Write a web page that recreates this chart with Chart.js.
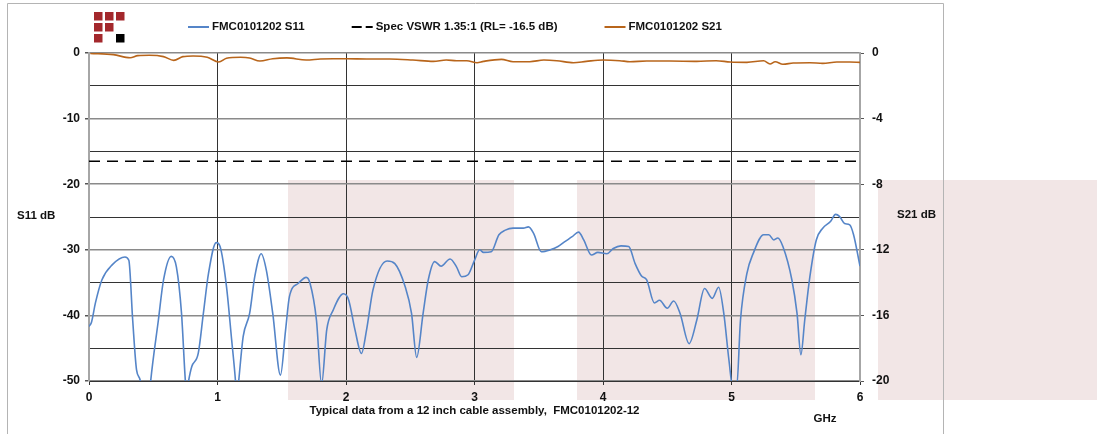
<!DOCTYPE html>
<html>
<head>
<meta charset="utf-8">
<title>FMC0101202 S11 / S21</title>
<script src="https://cdn.jsdelivr.net/npm/chart.js@4.4.1/dist/chart.umd.min.js"></script>
<style>
  html, body { margin: 0; padding: 0; background: #fff; }
  #wrap { position: relative; width: 1097px; height: 434px; }
</style>
</head>
<body>
<div id="wrap"><canvas id="chart" width="1097" height="434"></canvas></div>
<script>
// S11 return loss (GHz / dB). Dips below -50 get clipped by the axis.
const s11Freq = [0.00, 0.02, 0.05, 0.10, 0.18, 0.28, 0.31, 0.34, 0.37, 0.40, 0.445, 0.48, 0.54, 0.58, 0.64, 0.68, 0.72, 0.75, 0.76, 0.775,
  0.80, 0.85, 0.89, 0.93, 0.99, 1.02, 1.07, 1.11, 1.14, 1.15, 1.165, 1.20, 1.25, 1.29, 1.34, 1.38, 1.43, 1.49, 1.53, 1.56,
  1.63, 1.69, 1.72, 1.77, 1.81, 1.85, 1.90, 1.98, 2.02, 2.07, 2.12, 2.16, 2.21, 2.32, 2.38, 2.46, 2.51, 2.55, 2.60, 2.64,
  2.69, 2.74, 2.81, 2.86, 2.90, 2.95, 3.00, 3.04, 3.07, 3.13, 3.19, 3.24, 3.30, 3.38, 3.42, 3.46, 3.52, 3.59, 3.65, 3.70,
  3.76, 3.81, 3.85, 3.91, 3.96, 4.03, 4.08, 4.14, 4.20, 4.25, 4.30, 4.34, 4.40, 4.44, 4.50, 4.55, 4.60, 4.67, 4.73, 4.79,
  4.85, 4.90, 4.94, 4.98, 5.01, 5.04, 5.07, 5.12, 5.17, 5.25, 5.29, 5.33, 5.36, 5.40, 5.47, 5.51, 5.54, 5.57, 5.61, 5.66,
  5.71, 5.77, 5.81, 5.84, 5.88, 5.92, 5.95, 6.00];
const s11Db = [-41.7, -41.0, -38.1, -34.6, -32.3, -31.1, -31.6, -40.7, -48.3, -50.0, -58.0, -50.0, -40.7, -34.6, -31.0, -32.6, -39.7, -50.0, -52.0, -50.0,
  -47.8, -45.8, -39.7, -33.6, -28.9, -29.5, -35.6, -43.7, -50.0, -53.0, -50.0, -43.2, -39.7, -34.1, -30.6, -33.1, -39.7, -49.1, -42.2, -37.1,
  -35.1, -34.2, -35.1, -40.7, -50.5, -42.2, -39.2, -36.7, -37.6, -42.2, -45.8, -42.2, -36.1, -31.7, -32.1, -35.6, -39.7, -46.4, -39.7, -34.6,
  -31.8, -32.5, -31.4, -32.6, -34.1, -33.8, -31.6, -30.0, -30.4, -30.3, -27.7, -27.0, -26.7, -26.7, -26.5, -27.5, -30.3, -30.0, -29.5, -28.8,
  -28.0, -27.3, -28.5, -30.8, -30.4, -30.6, -29.8, -29.4, -29.5, -32.1, -34.0, -34.6, -38.1, -37.7, -38.9, -37.8, -39.7, -44.3, -40.7, -35.9,
  -37.4, -35.7, -39.7, -46.8, -51.0, -51.0, -40.7, -33.6, -30.5, -27.7, -27.7, -28.5, -28.2, -29.5, -34.6, -39.7, -46.0, -40.7, -34.1, -28.5,
  -26.7, -25.7, -24.6, -24.9, -26.0, -26.2, -27.7, -32.5];

// S21 insertion loss (right axis)
const s21Freq = [0.01, 0.19, 0.32, 0.38, 0.47, 0.58, 0.66, 0.73, 0.81, 0.92, 1.01, 1.07, 1.18, 1.25, 1.33, 1.43, 1.54, 1.69, 1.80, 1.90,
  2.01, 2.16, 2.34, 2.52, 2.68, 2.78, 2.86, 2.94, 3.02, 3.07, 3.21, 3.30, 3.43, 3.54, 3.64, 3.77, 3.87, 4.00, 4.13, 4.21,
  4.34, 4.52, 4.73, 4.88, 4.99, 5.12, 5.25, 5.30, 5.34, 5.40, 5.48, 5.61, 5.71, 5.82, 5.92, 6.00];
const s21Db = [-0.02, -0.10, -0.29, -0.16, -0.14, -0.22, -0.45, -0.22, -0.18, -0.26, -0.55, -0.32, -0.26, -0.30, -0.49, -0.35, -0.30, -0.43, -0.37, -0.35,
  -0.35, -0.37, -0.37, -0.43, -0.51, -0.43, -0.47, -0.47, -0.59, -0.51, -0.39, -0.53, -0.53, -0.43, -0.47, -0.59, -0.51, -0.43, -0.47, -0.53,
  -0.49, -0.49, -0.51, -0.47, -0.55, -0.57, -0.47, -0.67, -0.53, -0.69, -0.61, -0.59, -0.63, -0.55, -0.55, -0.57];

// spec limit line VSWR 1.35:1
const specFreq = [0, 6];
const specDb = [-16.5, -16.5];

const leftTickLabels = [0, -10, -20, -30, -40, -50];
const rightTickLabels = [0, -4, -8, -12, -16, -20];

const FONT = '"Liberation Sans", Arial, sans-serif';
const tickFont = { family: FONT, size: 12, weight: 'bold' };

const toPoints = (xs, ys) => xs.map((x, i) => ({ x: x, y: ys[i] }));

// background shading, frame, logo, legend and free-standing titles
const decorations = {
  id: 'decorations',
  beforeDraw(chart) {
    const ctx = chart.ctx;
    ctx.save();
    ctx.fillStyle = '#fff';
    ctx.fillRect(0, 0, chart.width, chart.height);
    ctx.fillStyle = '#f2e6e6';
    ctx.fillRect(288, 180, 226, 220);
    ctx.fillRect(577, 180, 238, 220);
    ctx.fillRect(878, 180, 219, 220);
    ctx.strokeStyle = '#b4b4b4';
    ctx.lineWidth = 1;
    ctx.beginPath();
    ctx.moveTo(7.5, 434);
    ctx.lineTo(7.5, 3.5);
    ctx.lineTo(943.5, 3.5);
    ctx.lineTo(943.5, 434);
    ctx.stroke();
    ctx.restore();
  },
  afterDraw(chart) {
    const ctx = chart.ctx;
    ctx.save();

    // logo: 3x3 block grid
    const logo = [['r', 'r', 'r'], ['r', 'r', ''], ['r', '', 'k']];
    logo.forEach((row, r) => row.forEach((c, k) => {
      if (!c) return;
      ctx.fillStyle = c === 'r' ? '#a3282c' : '#000';
      ctx.fillRect(94 + k * 11, 12 + r * 11, 8.5, 8.5);
    }));

    // legend
    ctx.font = 'bold 11.5px ' + FONT;
    ctx.textBaseline = 'middle';
    ctx.fillStyle = '#111';
    let x = 188;
    const y = 27;
    [0, 1, 2].forEach((i) => {
      const ds = chart.data.datasets[i];
      ctx.strokeStyle = ds.borderColor;
      ctx.lineWidth = 2;
      ctx.setLineDash(ds.borderDash ? [10, 4] : []);
      ctx.beginPath();
      ctx.moveTo(x, y);
      ctx.lineTo(x + 21, y);
      ctx.stroke();
      ctx.setLineDash([]);
      ctx.fillText(ds.label, x + 24, y);
      x += 24 + ctx.measureText(ds.label).width + 47;
    });

    // axis titles
    ctx.textAlign = 'left';
    ctx.fillText('S11 dB', 17, 216);
    ctx.fillText('S21 dB', 897, 215);
    ctx.textAlign = 'center';
    const area = chart.chartArea;
    ctx.fillText('Typical data from a 12 inch cable assembly,  FMC0101202-12', (area.left + area.right) / 2, 411);
    ctx.fillText('GHz', 825, 419);
    ctx.restore();
  }
};

const chart = new Chart(document.getElementById('chart'), {
  type: 'line',
  data: {
    datasets: [
      {
        label: 'FMC0101202 S11',
        data: toPoints(s11Freq, s11Db),
        borderColor: '#5585c8',
        borderWidth: 1.6,
        pointRadius: 0,
        cubicInterpolationMode: 'monotone',
        yAxisID: 'y',
      },
      {
        label: 'Spec VSWR 1.35:1 (RL= -16.5 dB)',
        data: toPoints(specFreq, specDb),
        borderColor: '#000',
        borderWidth: 1.6,
        borderDash: [11, 7],
        pointRadius: 0,
        yAxisID: 'y',
      },
      {
        label: 'FMC0101202 S21',
        data: toPoints(s21Freq, s21Db),
        borderColor: '#b8651b',
        borderWidth: 1.6,
        pointRadius: 0,
        cubicInterpolationMode: 'monotone',
        yAxisID: 'y2',
      },
    ],
  },
  options: {
    responsive: false,
    animation: false,
    events: [],
    layout: { padding: { top: 53, left: 0, right: 0, bottom: 0 } },
    plugins: { legend: { display: false }, tooltip: { enabled: false } },
    scales: {
      x: {
        type: 'linear',
        min: 0,
        max: 6,
        afterFit: (s) => { s.height = 53; },
        ticks: { stepSize: 1, padding: 5, font: tickFont, color: '#111', maxRotation: 0 },
        grid: {
          color: (c) => (c.tick.value === 0 || c.tick.value === 6 ? '#a6a6a6' : '#333'),
          tickColor: '#333',
          tickLength: 4,
        },
        border: { color: '#333', width: 1 },
      },
      y: {
        position: 'left',
        min: -50,
        max: 0,
        afterFit: (s) => { s.width = 89; },
        ticks: {
          stepSize: 5,
          padding: 5,
          font: tickFont,
          color: '#111',
          callback: (v) => (leftTickLabels.includes(v) ? v : ''),
        },
        grid: {
          color: (c) => (c.tick.value % 10 === 0 ? '#8a8a8a' : '#333'),
          lineWidth: (c) => (c.tick.value % 10 === 0 ? 1.5 : 1),
          tickColor: (c) => (c.tick.value % 10 === 0 ? '#555' : 'transparent'),
          tickLength: 4,
        },
        border: { color: '#a6a6a6', width: 2 },
      },
      y2: {
        position: 'right',
        min: -20,
        max: 0,
        afterFit: (s) => { s.width = 237; },
        ticks: {
          stepSize: 4,
          padding: 8,
          font: tickFont,
          color: '#111',
          callback: (v) => (rightTickLabels.includes(v) ? v : ''),
        },
        grid: { drawOnChartArea: false, color: '#555', tickLength: 4 },
        border: { color: '#a6a6a6', width: 2 },
      },
    },
  },
  plugins: [decorations],
});
</script>
</body>
</html>
